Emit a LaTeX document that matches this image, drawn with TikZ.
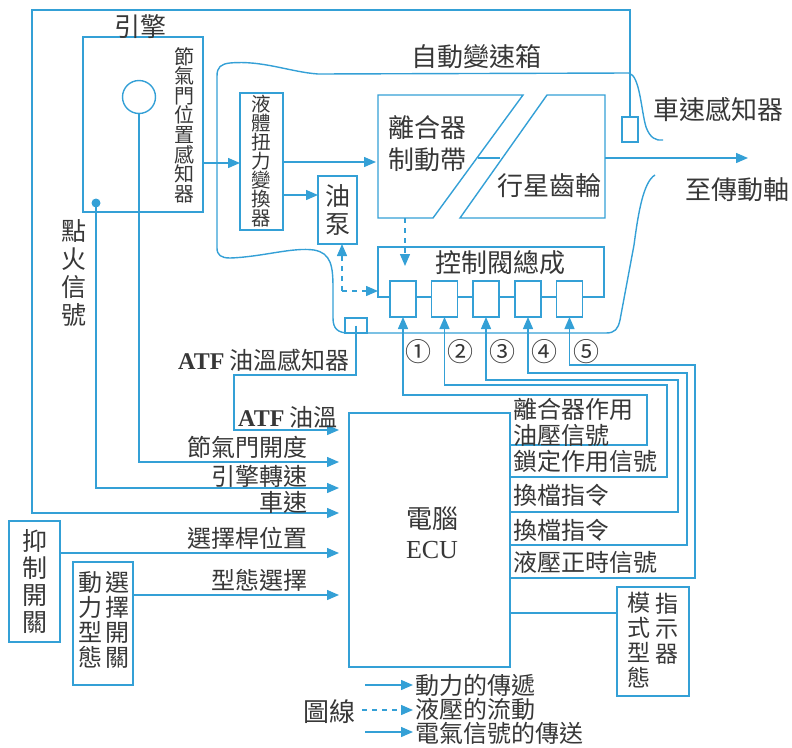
\documentclass[tikz,border=0pt]{standalone}
\usepackage{fontspec}
\newfontfamily\cjk{Noto Sans CJK TC}
\newfontfamily\ser{Liberation Serif}
\usetikzlibrary{arrows.meta}
\definecolor{sig}{RGB}{52,160,214}
\definecolor{txt}{RGB}{55,55,55}
\newcommand{\fs}[2]{\cjk\fontsize{#1}{#2}\selectfont}
\begin{document}
\lineskiplimit=-100pt
\lineskip=0pt
\begin{tikzpicture}[x=1pt,y=-1pt,
  wire/.style={draw=sig,line width=1.4pt},
  arr/.style={wire,-{Triangle[length=12pt,width=10pt]}},
  darr/.style={arr,dash pattern=on 5pt off 5pt},
  box/.style={draw=sig,line width=1.4pt,inner sep=0pt,outer sep=0pt},
  lab/.style={text=txt,inner sep=0pt,font=\fs{24}{26}},
  big/.style={text=txt,inner sep=0pt,font=\fs{26}{28}},
  vt/.style={text=txt,inner sep=0pt,align=center},
  num/.style={text=txt,inner sep=0pt,font=\fs{26}{28}}
]
\useasboundingbox (0,0) rectangle (792,747);

% ---------- engine ----------
\node[box,minimum width=120pt,minimum height=175pt] (eng) at (143,124.5) {};
\node[big] (engL) at (140,27) {引擎};
\node[circle,draw=sig,line width=1.4pt,minimum size=33pt,inner sep=0pt] (thr) at (139,97) {};
\node[vt,font=\fs{20}{19.6}] (tps) at (184,125) {節\\氣\\門\\位\\置\\感\\知\\器};
\coordinate (dot) at (96,203);
\fill[sig] (dot) circle[radius=4.5pt];
\node[vt,font=\fs{25}{28}] (ign) at (74,273) {點\\火\\信\\號};

% ---------- transmission housing ----------
\draw[wire] (629,73) -- (318,74) .. controls (290,72) and (262,60) .. (230,63)
  .. controls (221,64) and (217,67) .. (217,76) -- (217,248)
  .. controls (217,255) and (221,258) .. (230,258)
  .. controls (262,257) and (292,247) .. (314,250)
  .. controls (331,253) and (333,266) .. (333,288) -- (333,318)
  .. controls (333,329) and (338,333) .. (349,333) -- (606,333)
  .. controls (615,333) and (618,329) .. (620,320) -- (634,245)
  .. controls (638,215) and (643,182) .. (655,175);
\draw[wire] (629,73) .. controls (640,76) and (641,110) .. (646,127)
  .. controls (650,138) and (656,141) .. (663,140);
\node[big] (atL) at (476,57) {自動變速箱};

% speed sensor
\node[box,fill=white,minimum width=16pt,minimum height=25pt] (spd) at (630,129.5) {};
\node[big] (spdL) at (718,110) {車速感知器};

% torque converter and pump
\node[box,vt,font=\fs{19.5}{19},minimum width=43pt,minimum height=137pt] (tc) at (261.5,161.5) {液\\體\\扭\\力\\變\\換\\器};
\node[box,vt,font=\fs{25}{28},minimum width=39pt,minimum height=68pt] (pump) at (337.5,210) {油\\泵};

% clutch / brake and planetary gear
\coordinate (cA) at (378,95);  \coordinate (cB) at (523,95);
\coordinate (cC) at (433,218); \coordinate (cD) at (378,218);
\draw[wire] (cA) -- (cB) -- (cC) -- (cD) -- cycle;
\coordinate (pA) at (547,95);  \coordinate (pB) at (605,95);
\coordinate (pC) at (605,218); \coordinate (pD) at (460,218);
\draw[wire] (pA) -- (pB) -- (pC) -- (pD) -- cycle;
\coordinate (lk1) at (478,158); \coordinate (lk2) at (500,158);
\draw[wire] (lk1) -- (lk2);
\node[big] (clL1) at (427,128) {離合器};
\node[big] (clL2) at (427,160) {制動帶};
\node[big] (plL) at (549,186) {行星齒輪};
\coordinate (shaftE) at (748,158);
\draw[arr] (pB |- lk1) -- (shaftE);
\node[big] (shL) at (737,190) {至傳動軸};

% power flow arrows
\coordinate (y163) at (0,163);
\coordinate (y162) at (0,162);
\coordinate (y195) at (0,195);
\draw[arr] (eng.east |- y163) -- (tc.west |- y163);
\draw[arr] (tc.east |- y162) -- ([xshift=-2pt]cA |- y162);
\draw[arr] (tc.east |- y195) -- (pump.west |- y195);

% control valve assembly
\coordinate (cvTL) at (378,247); \coordinate (cvTR) at (604,247);
\coordinate (cvBR) at (604,297); \coordinate (cvBL) at (378,297);
\draw[wire] (cvBL) -- (cvTL) -- (cvTR) -- (cvBR) -- cycle;
\foreach \i/\x in {1/403,2/444.5,3/486,4/528,5/569.5}
  \node[box,fill=white,minimum width=26pt,minimum height=36pt] (v\i) at (\x,299) {};
\node[big] (cvL) at (500,263) {控制閥總成};

% hydraulic flow (dashed)
\coordinate (clS) at (405,218); \coordinate (cvIn) at (405,266);
\draw[darr] (clS) -- (cvIn);
\coordinate (pj) at (342,291); \coordinate (cvW) at (378,291);
\draw[darr] (pj) -- (pj |- pump.south);
\draw[darr] (pj) -- (cvW);

% ATF temperature sensor
\node[box,fill=white,minimum width=22pt,minimum height=15pt] (atf) at (356,325.5) {};
\node[lab,anchor=east] (atfL) at (350,360) {{\ser\bfseries ATF} 油溫感知器};

% circled numbers
\node[num] (n1) at (418,352) {①};
\node[num] (n2) at (460,352) {②};
\node[num] (n3) at (502,352) {③};
\node[num] (n4) at (544,352) {④};
\node[num] (n5) at (586,352) {⑤};

% ---------- ECU ----------
\node[box,minimum width=161pt,minimum height=254pt] (ecu) at (429.5,540) {};
\node[big] (ecuL1) at (432,519) {電腦};
\node[text=txt,inner sep=0pt,font=\ser\fontsize{26}{28}\selectfont] (ecuL2) at (432,550) {ECU};

% ECU inputs
\coordinate (rAtf) at (339,430);
\coordinate (rThr) at (339,462);
\coordinate (rRpm) at (339,488);
\coordinate (rSpd) at (339,513);
\coordinate (rSel) at (339,553);
\coordinate (rMode) at (339,595);
\coordinate (tl) at (32,10);
\coordinate (ak) at (234,375);
\draw[arr] (spd.north) |- (tl) |- (rSpd);
\draw[arr] (thr.south) |- (rThr);
\draw[arr] (dot) |- (rRpm);
\draw[arr] (atf.center) |- (ak) |- (rAtf);

\node[box,vt,font=\fs{25}{27},minimum width=51pt,minimum height=121pt] (inh) at (34.5,581.5) {抑\\制\\開\\關};
\node[box,minimum width=60pt,minimum height=123pt] (msw) at (103,623.5) {};
\node[vt,font=\fs{24}{25}] (mswA) at (90,620) {動\\力\\型\\態};
\node[vt,font=\fs{24}{25}] (mswB) at (117,620) {選\\擇\\開\\關};
\draw[arr] (inh.east |- rSel) -- (rSel);
\draw[arr] (msw.east |- rMode) -- (rMode);

\node[lab,anchor=west] (iAtf) at (238,417) {{\ser\bfseries ATF} 油溫};
\node[lab,anchor=east] (iThr) at (308,447) {節氣門開度};
\node[lab,anchor=east] (iRpm) at (308,476) {引擎轉速};
\node[lab,anchor=east] (iSpd) at (308,502) {車速};
\node[lab,anchor=east] (iSel) at (308,538) {選擇桿位置};
\node[lab,anchor=east] (iMode) at (308,580) {型態選擇};

% ECU outputs to valves
\coordinate (c1) at (0,445); \coordinate (k1) at (647,395);
\coordinate (c2) at (0,477); \coordinate (k2) at (667,385);
\coordinate (c3) at (0,512); \coordinate (k3) at (678,380);
\coordinate (c4) at (0,545); \coordinate (k4) at (687,373);
\coordinate (c5) at (0,578); \coordinate (k5) at (695,365);
\draw[arr] (ecu.east |- c1) -| (k1) -| (v1.south);
\draw[arr] (ecu.east |- c2) -| (k2) -| (v2.south);
\draw[arr] (ecu.east |- c3) -| (k3) -| (v3.south);
\draw[arr] (ecu.east |- c4) -| (k4) -| (v4.south);
\draw[arr] (ecu.east |- c5) -| (k5) -| (v5.south);

\node[lab,anchor=west] (o1a) at (513,409) {離合器作用};
\node[lab,anchor=west] (o1b) at (513,435) {油壓信號};
\node[lab,anchor=west] (o2) at (513,461) {鎖定作用信號};
\node[lab,anchor=west] (o3) at (513,495) {換檔指令};
\node[lab,anchor=west] (o4) at (513,530) {換檔指令};
\node[lab,anchor=west] (o5) at (513,562) {液壓正時信號};

% mode indicator
\node[box,minimum width=72pt,minimum height=109pt] (ind) at (653,641.5) {};
\node[vt,font=\fs{23}{25}] (indA) at (639,640.5) {模\\式\\型\\態};
\node[vt,font=\fs{23}{25}] (indB) at (667,629) {指\\示\\器};
\coordinate (c6) at (0,613);
\draw[wire] (ecu.east |- c6) -- (ind.west |- c6);

% ---------- legend ----------
\node[big] (lgT) at (329,712) {圖線};
\coordinate (l1s) at (365,685); \coordinate (l1e) at (413,685);
\coordinate (l2s) at (362,710); \coordinate (l2e) at (413,710);
\coordinate (l3s) at (365,732); \coordinate (l3e) at (413,732);
\draw[arr] (l1s) -- (l1e);
\draw[darr] (l2s) -- (l2e);
\draw[arr] (l3s) -- (l3e);
\node[lab,anchor=west] (lg1) at (415,685) {動力的傳遞};
\node[lab,anchor=west] (lg2) at (415,709) {液壓的流動};
\node[lab,anchor=west] (lg3) at (415,733) {電氣信號的傳送};
\end{tikzpicture}
\end{document}
